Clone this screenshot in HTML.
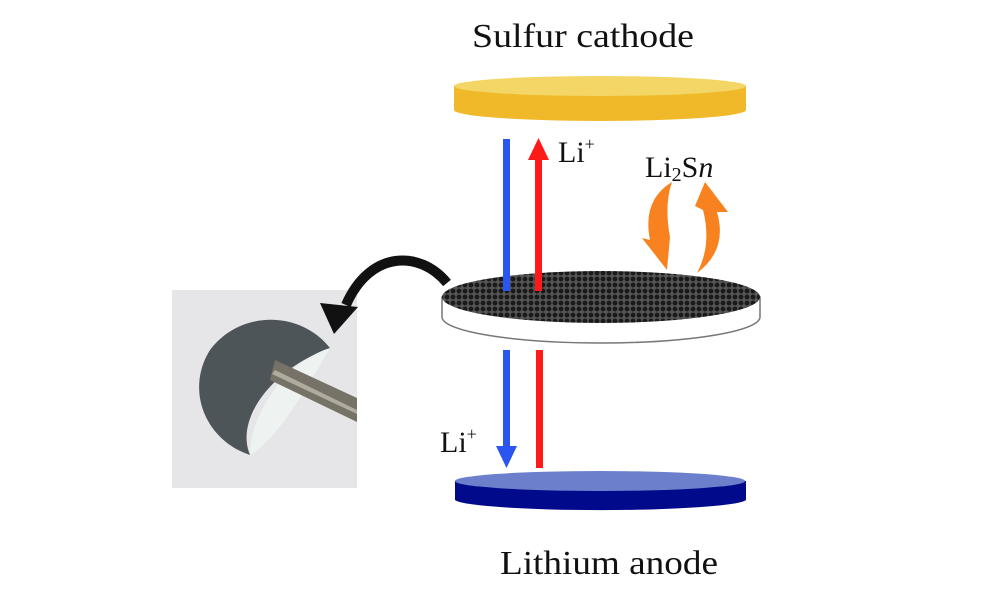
<!DOCTYPE html>
<html><head><meta charset="utf-8"><style>
html,body{margin:0;padding:0;background:#fff;width:1000px;height:600px;overflow:hidden}
</style></head><body>
<svg width="1000" height="600" viewBox="0 0 1000 600" xmlns="http://www.w3.org/2000/svg">
<defs>
<pattern id="dots" width="6" height="6" patternUnits="userSpaceOnUse">
<rect width="6" height="6" fill="#555"/>
<circle cx="3" cy="3" r="2.4" fill="#1a1a1a"/>
</pattern>
</defs>
<g font-family="Liberation Serif, serif" fill="#111">
<text x="472" y="47" font-size="34" textLength="222" lengthAdjust="spacingAndGlyphs">Sulfur cathode</text>
<text x="500" y="574" font-size="34" textLength="218" lengthAdjust="spacingAndGlyphs">Lithium anode</text>
<text x="558" y="162" font-size="30">Li<tspan font-size="18" dy="-12">+</tspan></text>
<text x="645" y="177" font-size="30">Li<tspan font-size="20" dy="4">2</tspan><tspan dy="-4">S</tspan><tspan font-style="italic">n</tspan></text>
<text x="440" y="452" font-size="30">Li<tspan font-size="18" dy="-12">+</tspan></text>
</g>
<path d="M454 86 L454 110 A146 11 0 0 0 746 110 L746 86 Z" fill="#f0b92a"/>
<ellipse cx="600" cy="86" rx="146" ry="10" fill="#f3d665"/>
<path d="M442 297 L442 317 A159 26 0 0 0 760 317 L760 297 Z" fill="#fff" stroke="#777" stroke-width="1.5"/>
<ellipse cx="601" cy="297" rx="159" ry="26" fill="url(#dots)"/>
<path d="M455 481 L455 500 A146 11 0 0 0 746 500 L746 481 Z" fill="#000a8a"/>
<ellipse cx="600" cy="481" rx="145" ry="10" fill="#6b7fcc"/>
<rect x="503" y="139" width="7" height="152" fill="#2a55f0"/>
<rect x="535" y="158" width="7" height="133" fill="#ff1a1a"/>
<polygon points="528,160 549,160 538.5,138" fill="#ff1a1a"/>
<rect x="503" y="350" width="7" height="97" fill="#2a55f0"/>
<polygon points="496,446 517,446 506.5,468" fill="#2a55f0"/>
<rect x="536" y="350" width="7" height="118" fill="#ff1a1a"/>
<path d="M672 182 Q642 200 650 240 L642 238 L667 270 L670 237 Q664 205 672 182 Z" fill="#f7821f"/>
<path d="M697 273 Q728 250 717 212 L728 212 L705 182 L695 206 L703 210 Q712 245 697 273 Z" fill="#f7821f"/>
<rect x="172" y="290" width="185" height="198" fill="#e6e6e9"/>
<path d="M330 348 C300 310 240 310 210 350 C185 390 205 440 250 455 C235 420 270 370 330 348 Z" fill="#4e5558"/>
<path d="M330 348 C290 360 250 410 250 455 C275 440 300 400 330 348 Z" fill="#eef2f0"/>
<polygon points="275,360 357,398 357,422 270,380" fill="#777268"/>
<polygon points="275,370 357,410 357,414 272,374" fill="#b0ab9f"/>
<path d="M447 283 C420 250 370 250 346 305" fill="none" stroke="#111" stroke-width="10"/>
<polygon points="320,303 358,307 334,334" fill="#111"/>
</svg>
</body></html>
